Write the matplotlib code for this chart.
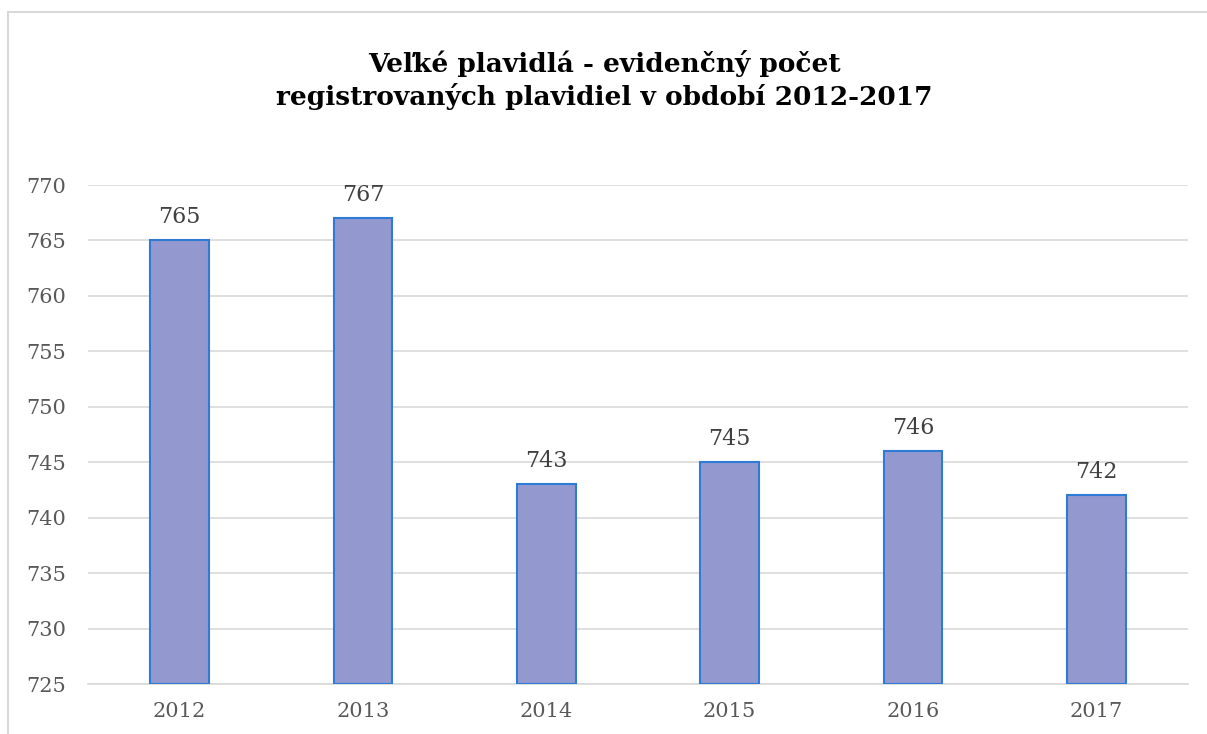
import matplotlib.pyplot as plt
from matplotlib.patches import Rectangle

years = ['2012', '2013', '2014', '2015', '2016', '2017']
counts = [765, 767, 743, 745, 746, 742]
y_ticks = list(range(725, 771, 5))

plt.rcParams['font.family'] = ['DejaVu Serif']

fig = plt.figure(figsize=(12.07, 7.34), dpi=100)
ax = fig.add_axes([88 / 1207, 1 - 684 / 734, 1100 / 1207, 499 / 734])

# chart border (cut off at right and bottom like the source)
fig.patches.append(Rectangle((8 / 1207, -0.1), 1.2, 1 - 12 / 734 + 0.1,
                             transform=fig.transFigure, fill=False,
                             edgecolor='#D9D9D9', linewidth=1.5))

x = range(len(years))
bars = ax.bar(x, [c - 725 for c in counts], bottom=725, width=0.32,
              color='#9399CF', edgecolor='#2E7BD6', linewidth=1.5, zorder=3)
for xi, c in zip(x, counts):
    ax.annotate(str(c), (xi, c), xytext=(0, 9), textcoords='offset points',
                ha='center', va='bottom', fontsize=16, color='#404040')

ax.set_xlim(-0.5, len(years) - 0.5)
ax.set_ylim(725, 770)
ax.set_xticks(list(x))
ax.set_xticklabels(years)
ax.set_yticks(y_ticks)
ax.tick_params(axis='both', length=0, labelsize=15, labelcolor='#595959')
ax.tick_params(axis='y', pad=16)
ax.tick_params(axis='x', pad=13)
ax.grid(axis='y', color='#D9D9D9', linewidth=1.2, zorder=0)
for side in ['top', 'right', 'left']:
    ax.spines[side].set_visible(False)
ax.spines['bottom'].set_color('#D9D9D9')
ax.spines['bottom'].set_linewidth(1.2)

fig.text(604 / 1207, 1 - 80 / 734,
         'Veľké plavidlá - evidenčný počet\nregistrovaných plavidiel v období 2012-2017',
         ha='center', va='center', fontsize=19, fontweight='bold',
         color='#000000', linespacing=1.25)

fig.savefig('out.png', dpi=100)
